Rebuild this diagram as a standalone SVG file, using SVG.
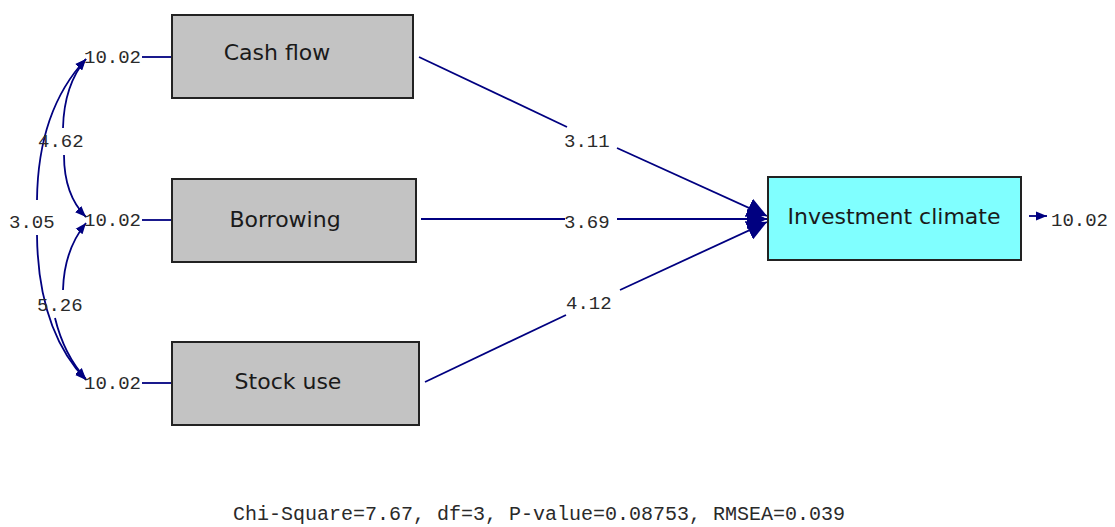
<svg xmlns="http://www.w3.org/2000/svg" width="1115" height="527" viewBox="0 0 1115 527">
<style>
.box{fill:#c3c3c3;stroke:#222;stroke-width:2}
.lbl{font-family:"DejaVu Sans",sans-serif;font-size:22px;fill:#1a1a1a;text-anchor:middle}
.num{font-family:"Liberation Mono",monospace;font-size:19px;fill:#2a2a2a}
.ln{stroke:#000080;stroke-width:1.8;fill:none}
</style>
<defs>
<marker id="big" viewBox="0 0 10 10" refX="10" refY="5" markerWidth="20" markerHeight="20" markerUnits="userSpaceOnUse" orient="auto"><path d="M0,0L10,5L0,10z" fill="#000080"/></marker>
<marker id="sm" viewBox="0 0 10 10" refX="10" refY="5" markerWidth="11" markerHeight="11" markerUnits="userSpaceOnUse" orient="auto"><path d="M0,1L10,5L0,9z" fill="#000080"/></marker>
</defs>
<rect width="1115" height="527" fill="#fff"/>
<g id="connectors">
<line class="ln" x1="142" y1="57" x2="172" y2="57"/>
<line class="ln" x1="142" y1="220" x2="172" y2="220"/>
<line class="ln" x1="142" y1="383" x2="172" y2="383"/>
<path class="ln" d="M419,57 L567,127"/>
<path class="ln" d="M617,148 L767,216" marker-end="url(#big)"/>
<path class="ln" d="M421,219 L565,219"/>
<path class="ln" d="M617,219 L767,219" marker-end="url(#big)"/>
<path class="ln" d="M425,382 L566,315"/>
<path class="ln" d="M620,290 L767,222" marker-end="url(#big)"/>
<path class="ln" d="M1029,216 L1047,216" stroke-width="2.5" marker-end="url(#sm)"/>
<path class="ln" d="M63,128 Q64,85 86,59" marker-end="url(#sm)"/>
<path class="ln" d="M64,155 Q64,195 86,217" marker-end="url(#sm)"/>
<path class="ln" d="M37,200 Q38,110 86,59" marker-end="url(#sm)"/>
<path class="ln" d="M37,235 Q38,330 86,380" marker-end="url(#sm)"/>
<path class="ln" d="M63,290 Q64,250 86,223" marker-end="url(#sm)"/>
<path class="ln" d="M55,318 Q64,355 86,379" marker-end="url(#sm)"/>
</g>
<g id="cashflow"><rect class="box" x="172" y="15" width="241" height="83"/><text class="lbl" x="277" y="60">Cash flow</text></g>
<g id="borrowing"><rect class="box" x="172" y="179" width="244" height="83"/><text class="lbl" x="285" y="227">Borrowing</text></g>
<g id="stockuse"><rect class="box" x="172" y="342" width="247" height="83"/><text class="lbl" x="288" y="389">Stock use</text></g>
<g id="investment"><rect x="768" y="177" width="253" height="83" fill="#80ffff" stroke="#222" stroke-width="2"/><text class="lbl" x="894" y="224">Investment climate</text></g>
<g id="labels">
<text class="num" x="84" y="63">10.02</text>
<text class="num" x="84" y="226">10.02</text>
<text class="num" x="84" y="389">10.02</text>
<text class="num" x="1051" y="226">10.02</text>
<text class="num" x="38" y="147">4.62</text>
<text class="num" x="9" y="228">3.05</text>
<text class="num" x="37" y="311">5.26</text>
<text class="num" x="564" y="147">3.11</text>
<text class="num" x="564" y="228">3.69</text>
<text class="num" x="566" y="309">4.12</text>
<text class="num" x="233" y="520" style="font-size:20px">Chi-Square=7.67, df=3, P-value=0.08753, RMSEA=0.039</text>
</g>
</svg>
